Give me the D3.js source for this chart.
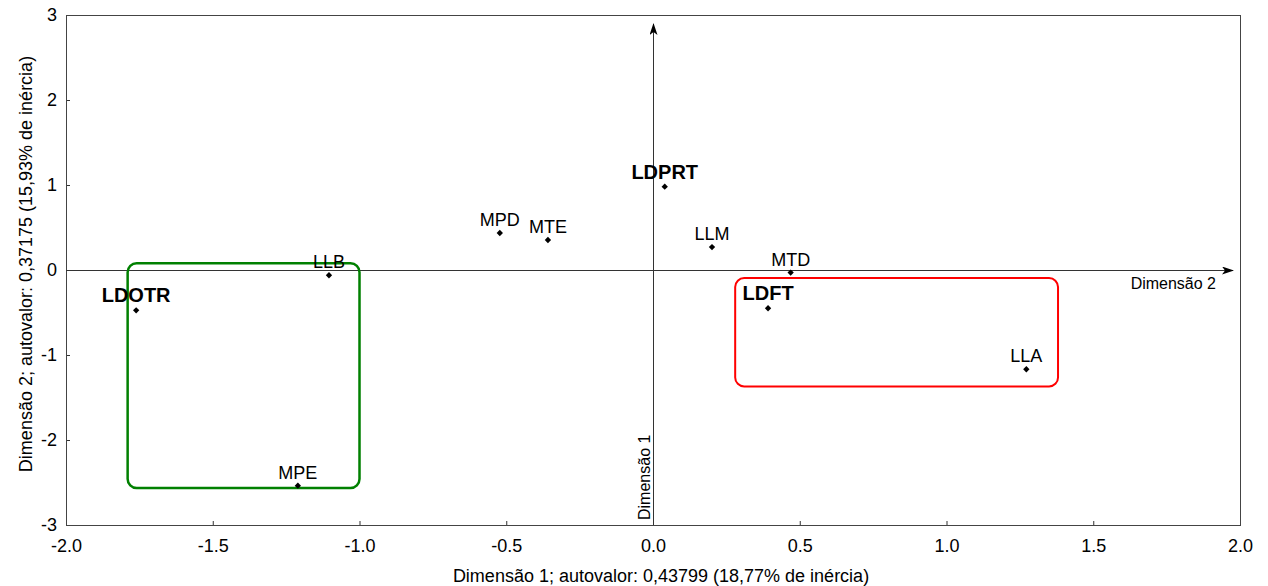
<!DOCTYPE html>
<html lang="en">
<head>
  <meta charset="UTF-8">
  <title>Análise de correspondência</title>
  <style>
    body  { margin: 0; background: #fff; font-family: Arial, "Liberation Sans", sans-serif; }
    .tick text { font-size: 18px; fill: #000; font-family: Arial, "Liberation Sans", sans-serif; }
    .tick line { stroke: #333; }
    .frame { fill: none; stroke: #444; }
    .axisline { stroke: #333; stroke-width: 1px; }
    .ptlabel { font-size: 18px; fill: #000; text-anchor: middle; }
    .ptlabel.bold { font-weight: bold; font-size: 20px; }
    .title { font-size: 18px; fill: #000; }
    .dimlabel { font-size: 16px; fill: #000; }
  </style>
</head>
<body>
  <svg id="chart" width="1268" height="586"></svg>

  <script src="https://d3js.org/d3.v7.min.js"></script>
  <script>
    /* ---------- data ---------- */
    const labels = ['LDPRT', 'MPD', 'MTE', 'LLM', 'MTD', 'LLB', 'LDOTR', 'LDFT', 'LLA', 'MPE'];
    const dim1   = [0.040, -0.522, -0.358, 0.201, 0.469, -1.104, -1.761, 0.392, 1.272, -1.21];
    const dim2   = [0.98, 0.435, 0.353, 0.27, -0.03, -0.062, -0.474, -0.45, -1.168, -2.537];
    const bold   = ['LDPRT', 'LDOTR', 'LDFT'];

    // grouping boxes: [x0, x1, yTop, yBottom] in data units
    const boxColors = ['#008000', '#ff0000'];
    const boxWidths = [2.5, 2];
    const boxExtent = [[-1.79, -1.00, 0.08, -2.565], [0.28, 1.38, -0.095, -1.37]];

    const xTicks = [-2.0, -1.5, -1.0, -0.5, 0.0, 0.5, 1.0, 1.5, 2.0];
    const yTicks = [-3, -2, -1, 0, 1, 2, 3];

    /* ---------- layout ---------- */
    const margin = { top: 15, right: 28, bottom: 61, left: 66 },
          W = 1268, H = 586,
          width  = W - margin.left - margin.right,
          height = H - margin.top - margin.bottom;

    const x = d3.scaleLinear().domain([-2, 2]).range([0, width]);
    const y = d3.scaleLinear().domain([-3, 3]).range([height, 0]);

    const svg = d3.select('#chart');
    const g = svg.append('g').attr('transform', `translate(${margin.left},${margin.top})`);

    // arrow marker
    svg.append('defs').append('marker')
        .attr('id', 'arrow')
        .attr('viewBox', '0 0 12 8')
        .attr('refX', 11).attr('refY', 4)
        .attr('markerWidth', 12).attr('markerHeight', 8)
        .attr('markerUnits', 'userSpaceOnUse')
        .attr('orient', 'auto')
      .append('path')
        .attr('d', 'M0,0 L12,4 L0,8 L3,4 Z')
        .attr('fill', '#000');

    /* ---------- axes ---------- */
    const xAxis = g.append('g')
        .attr('transform', `translate(0,${height})`)
        .call(d3.axisBottom(x).tickValues(xTicks).tickSize(-4).tickPadding(14)
                .tickFormat(d => d.toFixed(1)));
    xAxis.select('.domain').remove();

    const yAxis = g.append('g')
        .call(d3.axisLeft(y).tickValues(yTicks).tickSize(-4).tickPadding(9)
                .tickFormat(d => String(d)));
    yAxis.select('.domain').remove();

    g.append('rect').attr('class', 'frame')
        .attr('x', 0.5).attr('y', 0.5)
        .attr('width', width).attr('height', height);

    // centre axes with arrows
    g.append('line').attr('class', 'axisline')
        .attr('x1', 0).attr('x2', x(2) - 7)
        .attr('y1', y(0) + 0.5).attr('y2', y(0) + 0.5)
        .attr('marker-end', 'url(#arrow)');
    g.append('line').attr('class', 'axisline')
        .attr('x1', x(0) + 0.5).attr('x2', x(0) + 0.5)
        .attr('y1', height).attr('y2', y(3) + 9)
        .attr('marker-end', 'url(#arrow)');

    g.append('text').attr('class', 'dimlabel')
        .attr('x', x(2) - 24).attr('y', y(0) + 19)
        .attr('text-anchor', 'end')
        .text('Dimensão 2');

    g.append('text').attr('class', 'dimlabel')
        .attr('transform', `translate(${x(0) - 3},${height - 5}) rotate(-90)`)
        .text('Dimensão 1');

    /* ---------- titles ---------- */
    svg.append('text').attr('class', 'title')
        .attr('x', margin.left + width / 2 + 8).attr('y', H - 4)
        .attr('text-anchor', 'middle')
        .text('Dimensão 1; autovalor: 0,43799 (18,77% de inércia)');

    svg.append('text').attr('class', 'title')
        .attr('transform', `translate(32,${margin.top + height / 2 - 6}) rotate(-90)`)
        .attr('text-anchor', 'middle')
        .text('Dimensão 2; autovalor: 0,37175 (15,93% de inércia)');

    /* ---------- boxes ---------- */
    g.selectAll('rect.box')
      .data(boxExtent)
      .enter().append('rect')
        .attr('class', 'box')
        .attr('x', d => x(d[0]))
        .attr('y', d => y(d[2]))
        .attr('width', d => x(d[1]) - x(d[0]))
        .attr('height', d => y(d[3]) - y(d[2]))
        .attr('rx', 9).attr('ry', 9)
        .attr('fill', 'none')
        .attr('stroke', (d, i) => boxColors[i])
        .attr('stroke-width', (d, i) => boxWidths[i]);

    /* ---------- points ---------- */
    const pts = labels.map((l, i) => ({ label: l, d1: dim1[i], d2: dim2[i] }));
    const marker = d3.symbol().type(d3.symbolSquare).size(20);

    g.selectAll('path.pt')
      .data(pts)
      .enter().append('path')
        .attr('class', 'pt')
        .attr('transform', d => `translate(${x(d.d1)},${y(d.d2)}) rotate(45)`)
        .attr('d', marker)
        .attr('fill', '#000');

    g.selectAll('text.ptlabel')
      .data(pts)
      .enter().append('text')
        .attr('class', d => bold.includes(d.label) ? 'ptlabel bold' : 'ptlabel')
        .attr('x', d => x(d.d1))
        .attr('y', d => y(d.d2) - (bold.includes(d.label) ? 8 : 7))
        .text(d => d.label);
  </script>
</body>
</html>
